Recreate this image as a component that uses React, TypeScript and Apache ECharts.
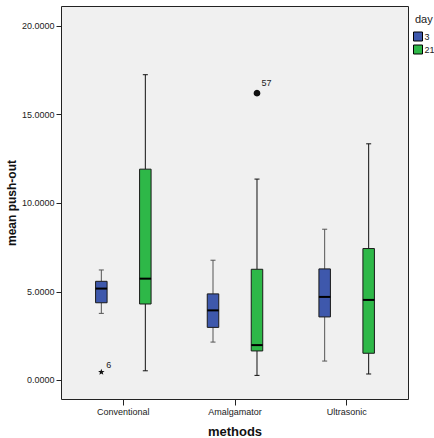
import React, { useEffect, useRef } from 'react';
import * as echarts from 'echarts';

const methods = ['Conventional', 'Amalgamator', 'Ultrasonic'];
const days = ['3', '21'];
// Per method: [lower whisker, Q1, median, Q3, upper whisker]
const day3Stats = [
  [3.78, 4.38, 5.18, 5.59, 6.23],
  [2.16, 2.99, 3.95, 4.88, 6.78],
  [1.09, 3.58, 4.71, 6.29, 8.53],
];
const day21Stats = [
  [0.54, 4.31, 5.74, 11.92, 17.25],
  [0.28, 1.66, 1.99, 6.27, 11.36],
  [0.36, 1.53, 4.54, 7.44, 13.35],
];
// Cases outside the whiskers
const outlierMethod = [0, 1];
const outlierDay = [0, 1];
const outlierValue = [0.47, 16.21];
const outlierCase = ['6', '57'];
const outlierKind = ['extreme', 'outlier'];
const yTicks = [0, 5, 10, 15, 20];

const dayColors = ['#3E58AC', '#2EB848'];
const whiskerColors = ['#555555', '#111111'];
const FONT = 'Arial, "Liberation Sans", sans-serif';

// Offsets and widths as fractions of a category band
const GROUP_OFFSET = 0.197;
const BOX_WIDTH = 0.103;
const CAP_WIDTH = 0.045;

function boxRenderer(dayIndex: number) {
  const sign = dayIndex === 0 ? -1 : 1;
  return (params: any, api: any) => {
    const cat = api.value(0);
    const band = api.size([1, 0])[0];
    const cx = api.coord([cat, 0])[0] + sign * band * GROUP_OFFSET;
    const half = (band * BOX_WIDTH) / 2;
    const cap = (band * CAP_WIDTH) / 2;
    const y = (i: number) => api.coord([cat, api.value(i)])[1];
    const yLow = y(1), yQ1 = y(2), yMed = y(3), yQ3 = y(4), yHigh = y(5);
    const wStyle = { stroke: whiskerColors[dayIndex], lineWidth: 1, fill: null };
    return {
      type: 'group',
      children: [
        { type: 'line', shape: { x1: cx, y1: yQ3, x2: cx, y2: yHigh }, style: wStyle },
        { type: 'line', shape: { x1: cx, y1: yQ1, x2: cx, y2: yLow }, style: wStyle },
        { type: 'line', shape: { x1: cx - cap, y1: yHigh, x2: cx + cap, y2: yHigh }, style: wStyle },
        { type: 'line', shape: { x1: cx - cap, y1: yLow, x2: cx + cap, y2: yLow }, style: wStyle },
        {
          type: 'rect',
          shape: { x: cx - half, y: yQ3, width: half * 2, height: yQ1 - yQ3 },
          style: { fill: dayColors[dayIndex], stroke: '#1a1a1a', lineWidth: 1 },
        },
        {
          type: 'line',
          shape: { x1: cx - half, y1: yMed, x2: cx + half, y2: yMed },
          style: { stroke: '#000', lineWidth: 2 },
        },
      ],
    };
  };
}

function starPoints(cx: number, cy: number, ro: number, ri: number) {
  const pts: number[][] = [];
  for (let i = 0; i < 10; i++) {
    const r = i % 2 === 0 ? ro : ri;
    const a = -Math.PI / 2 + (i * Math.PI) / 5;
    pts.push([cx + r * Math.cos(a), cy + r * Math.sin(a)]);
  }
  return pts;
}

function outlierRenderer(params: any, api: any) {
  const i = params.dataIndex;
  const cat = api.value(0);
  const band = api.size([1, 0])[0];
  const sign = outlierDay[i] === 0 ? -1 : 1;
  const pt = api.coord([cat, api.value(1)]);
  const cx = pt[0] + sign * band * GROUP_OFFSET;
  const cy = pt[1];
  const isExtreme = outlierKind[i] === 'extreme';
  const marker = isExtreme
    ? { type: 'polygon', shape: { points: starPoints(cx, cy, 3.4, 1.4) }, style: { fill: '#111' } }
    : { type: 'circle', shape: { cx, cy, r: 3.4 }, style: { fill: '#111' } };
  return {
    type: 'group',
    children: [
      marker,
      {
        type: 'text',
        x: cx + (isExtreme ? 5 : 4.4),
        y: cy + (isExtreme ? -7.4 : -10),
        style: {
          text: outlierCase[i],
          fill: '#222',
          fontSize: 9,
          fontFamily: FONT,
          align: 'left',
          verticalAlign: 'middle',
        },
      },
    ],
  };
}

export default function App() {
  const ref = useRef<HTMLDivElement>(null);

  useEffect(() => {
    if (!ref.current) return;
    const chart = echarts.init(ref.current, null, { renderer: 'svg' });
    const statsByDay = [day3Stats, day21Stats];

    chart.setOption({
      animation: false,
      backgroundColor: '#ffffff',
      textStyle: { fontFamily: FONT },
      grid: {
        left: 67.5,
        right: 31.5,
        top: 6.5,
        bottom: 38.5,
        containLabel: false,
        outerBoundsMode: 'none',
      },
      graphic: [
        {
          type: 'rect',
          z: -10,
          silent: true,
          shape: { x: 61.5, y: 6.5, width: 347, height: 393 },
          style: { fill: '#f0f0f0', stroke: '#222', lineWidth: 1 },
        },
        {
          type: 'text',
          x: 415,
          y: 19,
          style: { text: 'day', fontSize: 11, fontFamily: FONT, fill: '#222', align: 'left', verticalAlign: 'middle' },
        },
      ],
      legend: {
        data: days,
        orient: 'vertical',
        left: 413,
        top: 31.5,
        padding: 0,
        itemWidth: 9,
        itemHeight: 9,
        itemGap: 3,
        icon: 'rect',
        selectedMode: false,
        itemStyle: { borderColor: '#000', borderWidth: 1 },
        textStyle: { fontSize: 9, fontFamily: FONT, color: '#222', padding: [0, 0, 0, -3] },
      },
      xAxis: {
        type: 'category',
        data: methods,
        boundaryGap: true,
        axisLine: { show: false, onZero: false },
        axisTick: { show: true, alignWithLabel: true, length: 6, lineStyle: { color: '#222' } },
        axisLabel: { fontSize: 9, color: '#222', margin: 8, fontFamily: FONT },
        splitLine: { show: false },
        name: 'methods',
        nameLocation: 'middle',
        nameGap: 26,
        nameMoveOverlap: false,
        nameTextStyle: { fontSize: 13, lineHeight: 12, fontWeight: 'bold', color: '#111', fontFamily: FONT },
      },
      yAxis: {
        type: 'value',
        min: -1.08,
        max: 21.1,
        offset: 6,
        axisLine: { show: false, onZero: false },
        axisTick: { show: true, length: 5, customValues: yTicks, lineStyle: { color: '#222' } },
        axisLabel: {
          fontSize: 9,
          color: '#222',
          margin: 7,
          fontFamily: FONT,
          customValues: yTicks,
          formatter: (v: number) => v.toFixed(4),
        },
        splitLine: { show: false },
        name: 'mean push-out',
        nameLocation: 'middle',
        nameGap: 44,
        nameMoveOverlap: false,
        nameTextStyle: { fontSize: 12, fontWeight: 'bold', color: '#111', fontFamily: FONT },
      },
      series: [
        ...days.map((d, di) => ({
          name: d,
          type: 'custom',
          itemStyle: { color: dayColors[di] },
          encode: { x: 0, y: [1, 2, 3, 4, 5] },
          renderItem: boxRenderer(di),
          data: statsByDay[di].map((s, mi) => [mi, ...s]),
          z: 3,
        })),
        {
          name: 'outliers',
          type: 'custom',
          encode: { x: 0, y: 1 },
          renderItem: outlierRenderer,
          data: outlierValue.map((v, i) => [outlierMethod[i], v]),
          z: 4,
        },
      ],
    });

    return () => chart.dispose();
  }, []);

  return (
    <div
      ref={ref}
      style={{ position: 'fixed', left: 0, top: 0, width: 434, height: 438 }}
    />
  );
}
